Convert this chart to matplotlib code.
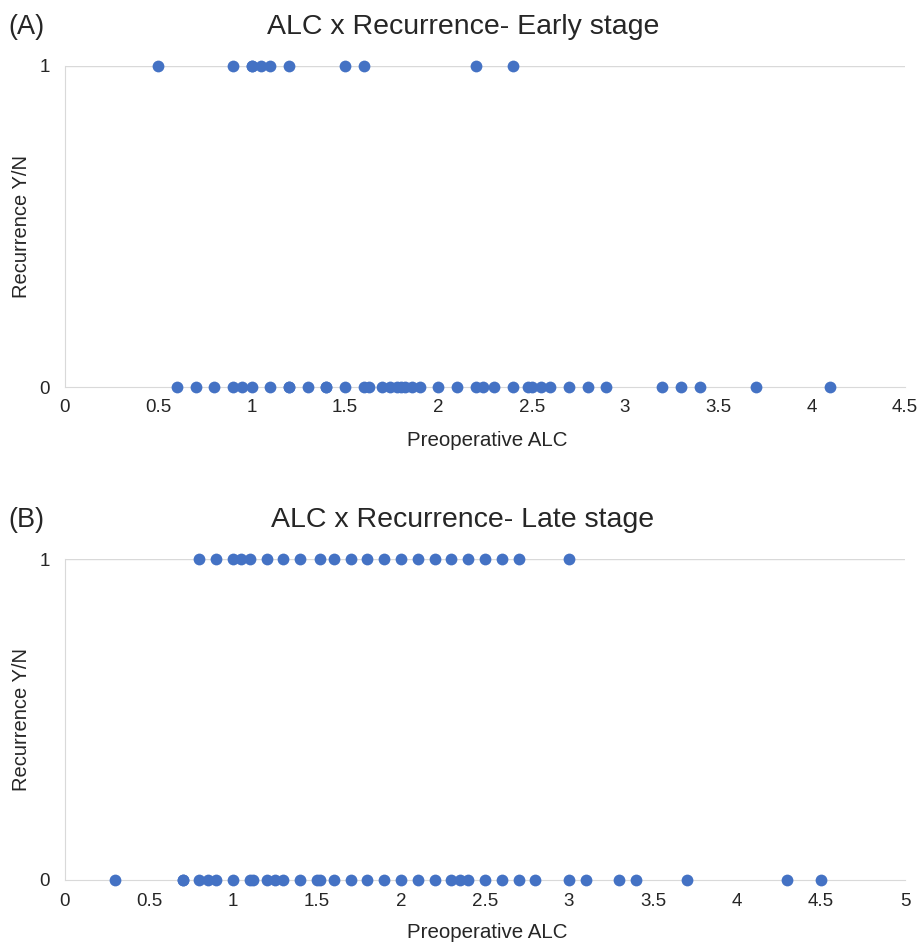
import matplotlib.pyplot as plt
import numpy as np

plt.rcParams['font.family'] = ['Liberation Sans', 'DejaVu Sans']

# Estadio temprano (A)
temprano_si = [0.5, 0.9, 1.0, 1.0, 1.05, 1.1, 1.2, 1.5, 1.6, 2.2, 2.4]
temprano_no = [0.6, 0.7, 0.8, 0.9, 0.95, 1.0, 1.1, 1.2, 1.2, 1.3, 1.4, 1.4, 1.5,
               1.6, 1.63, 1.7, 1.74, 1.78, 1.8, 1.82, 1.86, 1.9, 2.0, 2.1, 2.2,
               2.24, 2.3, 2.4, 2.48, 2.5, 2.55, 2.6, 2.7, 2.8, 2.9, 3.2, 3.3,
               3.4, 3.7, 4.1]

# Estadio tardío (B)
tardio_si = [0.8, 0.9, 1.0, 1.05, 1.1, 1.2, 1.3, 1.4, 1.52, 1.6, 1.7, 1.8,
             1.9, 2.0, 2.1, 2.2, 2.3, 2.4, 2.5, 2.6, 2.7, 3.0]
tardio_no = [0.3, 0.7, 0.7, 0.8, 0.85, 0.9, 1.0, 1.1, 1.12, 1.2, 1.25, 1.3,
             1.4, 1.5, 1.52, 1.6, 1.7, 1.8, 1.9, 2.0, 2.1, 2.2, 2.3, 2.35,
             2.4, 2.5, 2.6, 2.7, 2.8, 3.0, 3.1, 3.3, 3.4, 3.7, 4.3, 4.5]

paneles = [
    ("(A)", "ALC x Recurrence- Early stage", temprano_si, temprano_no, 4.5),
    ("(B)", "ALC x Recurrence- Late stage", tardio_si, tardio_no, 5.0),
]

azul = "#4472C4"
gris = "#D9D9D9"
texto = "#262626"

fig = plt.figure(figsize=(9.2, 9.42), dpi=100)

# posiciones de los ejes en pixeles (izq, abajo y arriba)
cajas = [(65, 387, 66), (65, 880, 559)]
titulos_y = [27, 520]
xlabel_y = [440, 932]

for i, (letra, titulo, si, no, xmax) in enumerate(paneles):
    izq, abajo, arriba = cajas[i]
    ax = fig.add_axes([izq / 920, 1 - abajo / 942, 840 / 920, (abajo - arriba) / 942])
    ax.scatter(si, np.ones(len(si)), s=72, color=azul, clip_on=False, zorder=3, linewidths=0)
    ax.scatter(no, np.zeros(len(no)), s=72, color=azul, clip_on=False, zorder=3, linewidths=0)
    ax.set_xlim(0, xmax)
    ax.set_ylim(0, 1)
    ax.set_xticks(np.arange(0, xmax + 0.01, 0.5))
    ax.set_xticklabels([f"{v:g}" for v in np.arange(0, xmax + 0.01, 0.5)])
    ax.set_yticks([0, 1])
    ax.tick_params(length=0, labelsize=13.5, colors=texto)
    ax.tick_params(axis="x", pad=9)
    ax.tick_params(axis="y", pad=11)
    ax.axhline(1, color=gris, lw=1, zorder=1)
    for lado in ["top", "right"]:
        ax.spines[lado].set_visible(False)
    ax.spines["bottom"].set_color(gris)
    ax.spines["left"].set_color(gris)
    ax.spines["bottom"].set_zorder(1)

    fig.text(8 / 920, 1 - titulos_y[i] / 942, letra, fontsize=19.5, color=texto, va="center")
    fig.text(463 / 920, 1 - titulos_y[i] / 942, titulo, fontsize=20.5, color=texto,
             ha="center", va="center")
    fig.text(487 / 920, 1 - xlabel_y[i] / 942, "Preoperative ALC", fontsize=14.8,
             color=texto, ha="center", va="center")
    fig.text(22 / 920, 1 - (abajo + arriba) / 2 / 942, "Recurrence Y/N", fontsize=14.5,
             color=texto, ha="center", va="center", rotation=90)

plt.savefig("out.png", dpi=100)
plt.close()
